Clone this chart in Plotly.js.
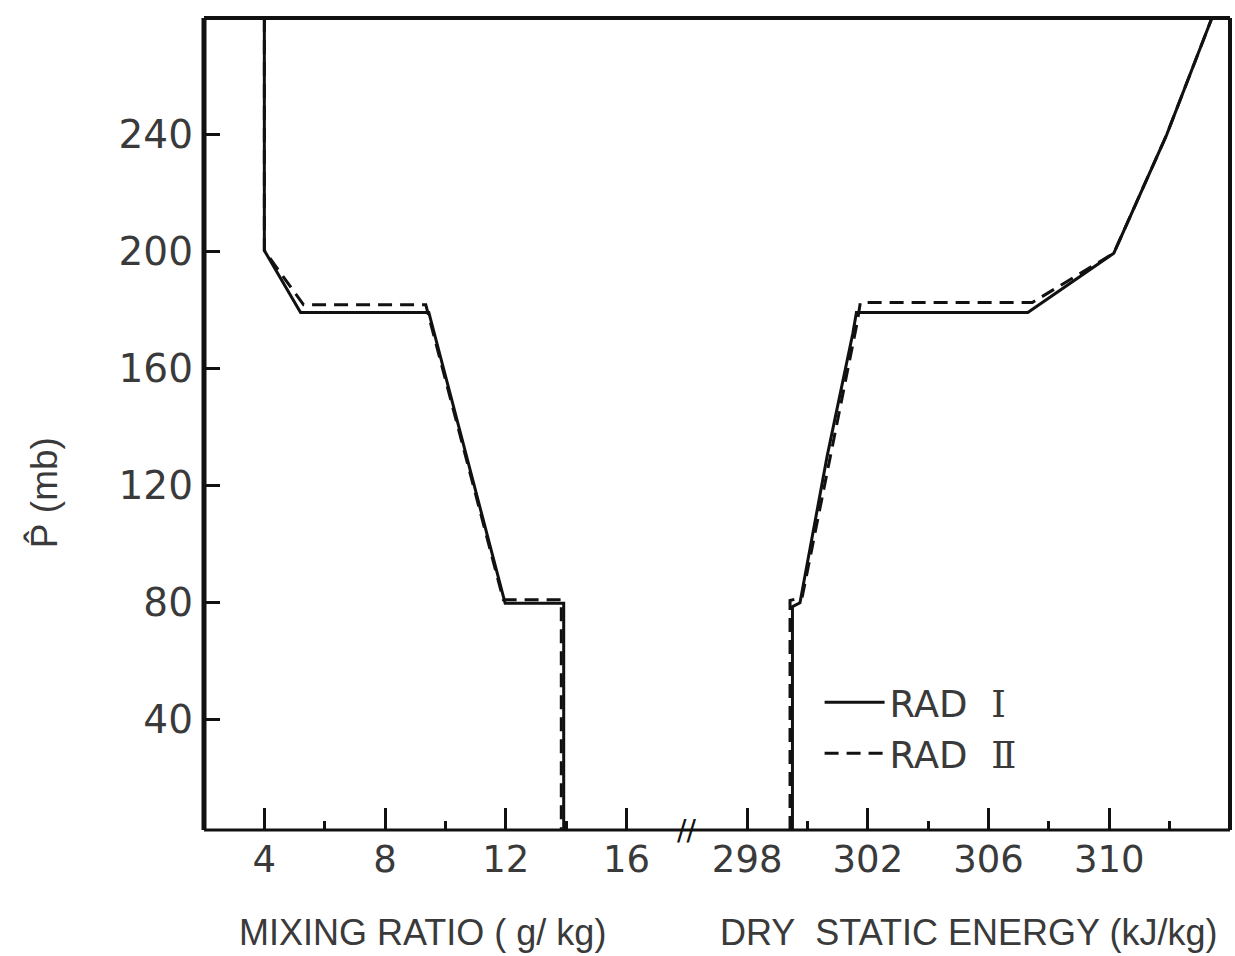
<!DOCTYPE html>
<html>
<head>
<meta charset="utf-8">
<script src="https://cdn.plot.ly/plotly-3.0.1.min.js"></script>
<style>html,body{margin:0;padding:0;background:#fff;}#chart{width:1235px;height:956px;}</style>
</head>
<body>
<div id="chart"></div>
<script>
// Pressure (mb) levels of each profile vertex
var mixP_rad1 = [280, 200.4, 179.2, 179.2, 79.6, 79.6, 2];
var mixQ_rad1 = [4.0, 4.0, 5.2, 9.45, 11.98, 13.92, 13.92];
var mixP_rad2 = [280, 200.4, 181.8, 181.8, 80.8, 80.8, 2];
var mixQ_rad2 = [4.0, 4.0, 5.3, 9.35, 11.92, 13.84, 13.84];

var dseP_rad1 = [2, 78.5, 79.8, 130, 172, 179.2, 179.2, 199.5, 240, 280];
var dseS_rad1 = [299.5, 299.5, 299.75, 300.65, 301.5, 301.62, 307.3, 310.15, 311.9, 313.4];
var dseP_rad2 = [2, 80.6, 81.6, 130, 176, 182.6, 182.6, 199.5, 240, 280];
var dseS_rad2 = [299.42, 299.42, 299.82, 300.75, 301.65, 301.75, 307.45, 310.15, 311.9, 313.4];

var mixTicks = [4, 8, 12, 16];
var mixMinor = [6, 10, 14];
var dseTicks = [298, 302, 306, 310];
var dseMinor = [300, 304, 308, 312];
var pTicks = [40, 80, 120, 160, 200, 240];

var numeralStyle = "font-family:'DejaVu Serif','Liberation Serif',serif";
var seriesNames = [
  'RAD\u00a0\u00a0<span style="' + numeralStyle + '">\u2160</span>',
  'RAD\u00a0\u00a0<span style="' + numeralStyle + '">\u2161</span>'
];

var ink = '#111';
var textInk = '#3a3a3a';

var traces = [
  {x: mixQ_rad1, y: mixP_rad1, xaxis: 'x', yaxis: 'y', mode: 'lines', name: seriesNames[0],
   legendgroup: 'r1', line: {color: ink, width: 3, dash: 'solid'}},
  {x: mixQ_rad2, y: mixP_rad2, xaxis: 'x', yaxis: 'y', mode: 'lines', name: seriesNames[1],
   legendgroup: 'r2', line: {color: ink, width: 3, dash: '14px,8px'}},
  {x: dseS_rad1, y: dseP_rad1, xaxis: 'x2', yaxis: 'y', mode: 'lines', name: seriesNames[0],
   legendgroup: 'r1', showlegend: false, line: {color: ink, width: 3, dash: 'solid'}},
  {x: dseS_rad2, y: dseP_rad2, xaxis: 'x2', yaxis: 'y', mode: 'lines', name: seriesNames[1],
   legendgroup: 'r2', showlegend: false, line: {color: ink, width: 3, dash: '14px,8px'}}
];

var split = 16 / 34;
var tickFontX = {family: 'DejaVu Sans, sans-serif', size: 37, color: textInk};
var tickFontY = {family: 'DejaVu Sans, sans-serif', size: 39, color: textInk};
var titleFont = {family: 'Liberation Sans, Arial, sans-serif', size: 36, color: textInk};

var layout = {
  width: 1235, height: 956,
  paper_bgcolor: '#fff', plot_bgcolor: '#fff',
  margin: {l: 204, r: 5, t: 18, b: 126},
  showlegend: true,
  legend: {x: 0.60, y: 0.195, xanchor: 'left', yanchor: 'top', bgcolor: 'rgba(0,0,0,0)',
           font: {family: 'DejaVu Sans, sans-serif', size: 37, color: textInk},
           itemwidth: 60, tracegroupgap: 0},
  xaxis: {domain: [0, split], range: [2, 18], anchor: 'y',
          tickmode: 'array', tickvals: mixTicks, ticktext: mixTicks.map(String),
          ticks: 'inside', ticklen: 22, tickwidth: 3, tickcolor: ink,
          minor: {tickmode: 'array', tickvals: mixMinor, ticks: 'inside', ticklen: 9, tickwidth: 3, tickcolor: ink},
          showgrid: false, zeroline: false, showline: false,
          tickfont: tickFontX, ticklabelstandoff: 4},
  xaxis2: {domain: [split, 1], range: [296, 314], anchor: 'y',
           tickmode: 'array', tickvals: dseTicks, ticktext: dseTicks.map(String),
           ticks: 'inside', ticklen: 22, tickwidth: 3, tickcolor: ink,
           minor: {tickmode: 'array', tickvals: dseMinor, ticks: 'inside', ticklen: 9, tickwidth: 3, tickcolor: ink},
           showgrid: false, zeroline: false, showline: false,
           tickfont: tickFontX, ticklabelstandoff: 4},
  yaxis: {range: [2, 280], anchor: 'x',
          tickmode: 'array', tickvals: pTicks, ticktext: pTicks.map(String),
          ticks: 'inside', ticklen: 16, tickwidth: 3, tickcolor: ink,
          showgrid: false, zeroline: false, showline: false,
          tickfont: tickFontY, ticklabelstandoff: 10},
  shapes: [
    {type: 'line', xref: 'paper', yref: 'paper', x0: 0, x1: 0, y0: 0, y1: 1, line: {color: ink, width: 5}},
    {type: 'line', xref: 'paper', yref: 'paper', x0: 1, x1: 1, y0: 0, y1: 1, line: {color: ink, width: 4}},
    {type: 'line', xref: 'paper', yref: 'paper', x0: 0, x1: 1, y0: 1, y1: 1, line: {color: ink, width: 4}},
    {type: 'line', xref: 'paper', yref: 'paper', x0: 0, x1: 1, y0: 0, y1: 0, line: {color: ink, width: 3}}
  ],
  annotations: [
    {text: 'MIXING RATIO ( g/ kg)', xref: 'paper', yref: 'paper', x: 0.2125, y: -0.126,
     xanchor: 'center', yanchor: 'middle', showarrow: false, font: titleFont},
    {text: 'DRY\u00a0\u00a0STATIC ENERGY (kJ/kg)', xref: 'paper', yref: 'paper', x: 0.745, y: -0.126,
     xanchor: 'center', yanchor: 'middle', showarrow: false, font: titleFont},
    {text: 'P\u0302 (mb)', xref: 'paper', yref: 'paper', x: -0.156, y: 0.416, textangle: -90,
     xanchor: 'center', yanchor: 'middle', showarrow: false,
     font: {family: 'Liberation Sans, Arial, sans-serif', size: 37, color: textInk}},
    {text: '//', xref: 'paper', yref: 'paper', x: split, y: 0, xanchor: 'center', yanchor: 'middle',
     showarrow: false, font: {family: 'DejaVu Sans, sans-serif', size: 28, color: ink}}
  ]
};

Plotly.newPlot('chart', traces, layout, {displayModeBar: false, staticPlot: true});
</script>
</body>
</html>
